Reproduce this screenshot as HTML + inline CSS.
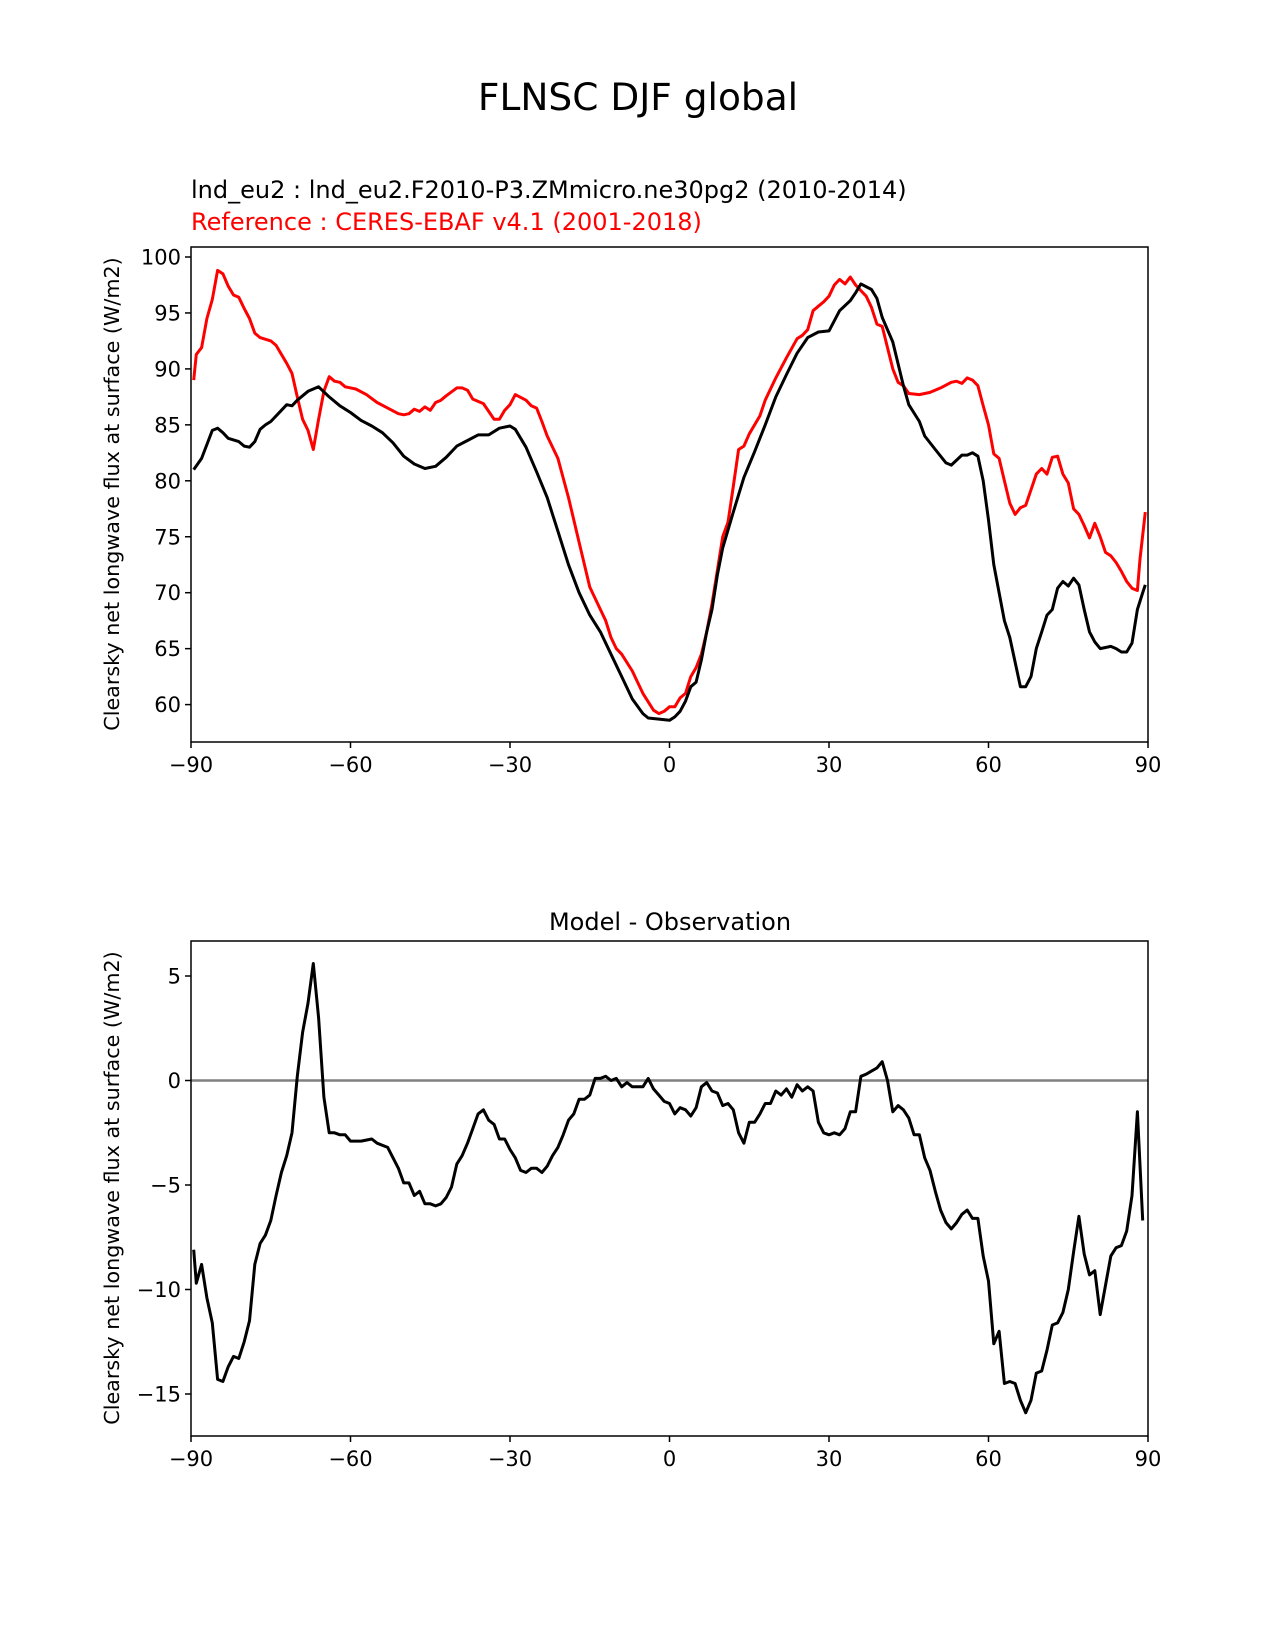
<!DOCTYPE html>
<html><head><meta charset="utf-8"><style>body{margin:0;background:#fff}svg{display:block;font-family:"DejaVu Sans","Liberation Sans",sans-serif}</style></head>
<body>
<svg id="c" width="1275" height="1650">
<text x="638" y="110" font-size="37.5" text-anchor="middle">FLNSC DJF global</text>
<text x="191" y="198" font-size="24">lnd_eu2 : lnd_eu2.F2010-P3.ZMmicro.ne30pg2 (2010-2014)</text>
<text x="191" y="230" font-size="24" fill="#ff0000">Reference : CERES-EBAF v4.1 (2001-2018)</text>
<text x="670" y="930" font-size="24" text-anchor="middle">Model - Observation</text>
<text transform="translate(119,494) rotate(-90)" font-size="20.7" text-anchor="middle">Clearsky net longwave flux at surface (W/m2)</text>
<text transform="translate(119,1188) rotate(-90)" font-size="20.7" text-anchor="middle">Clearsky net longwave flux at surface (W/m2)</text>
</svg>
<script>
const lat=[-89.5,-89,-88,-87,-86,-85,-84,-83,-82,-81,-80,-79,-78,-77,-76,-75,-74,-73,-72,-71,-70,-69,-68,-67,-66,-65,-64,-63,-62,-61,-60,-58,-56,-55,-53,-52,-51,-50,-49,-48,-47,-46,-45,-44,-43,-42,-41,-40,-39,-38,-37,-36,-35,-34,-33,-32,-31,-30,-29,-28,-27,-26,-25,-24,-23,-22,-21,-20,-19,-18,-17,-16,-15,-14,-13,-12,-11,-10,-9,-8,-7,-6,-5,-4,-3,-2,-1,0,1,2,3,4,5,6,7,8,9,10,11,12,13,14,15,16,17,18,19,20,21,22,23,24,25,26,27,28,29,30,31,32,33,34,35,36,37,38,39,40,41,42,43,44,45,46,47,48,49,50,51,52,53,54,55,56,57,58,59,60,61,62,63,64,65,66,67,68,69,70,71,72,73,74,75,76,77,78,79,80,81,82,83,84,85,86,87,88,89];
const diffVals=[-8.1,-9.7,-8.8,-10.4,-11.6,-14.3,-14.4,-13.7,-13.2,-13.3,-12.5,-11.5,-8.8,-7.8,-7.4,-6.7,-5.5,-4.4,-3.6,-2.5,0.2,2.3,3.7,5.6,3,-0.8,-2.5,-2.5,-2.6,-2.6,-2.9,-2.9,-2.8,-3,-3.2,-3.7,-4.2,-4.9,-4.9,-5.5,-5.3,-5.9,-5.9,-6,-5.9,-5.6,-5.1,-4,-3.6,-3,-2.3,-1.6,-1.4,-1.9,-2.1,-2.8,-2.8,-3.3,-3.7,-4.3,-4.4,-4.2,-4.2,-4.4,-4.1,-3.6,-3.2,-2.6,-1.9,-1.6,-0.9,-0.9,-0.7,0.1,0.1,0.2,0,0.1,-0.3,-0.1,-0.3,-0.3,-0.3,0.1,-0.4,-0.7,-1,-1.1,-1.6,-1.3,-1.4,-1.7,-1.3,-0.3,-0.1,-0.5,-0.6,-1.2,-1.1,-1.4,-2.5,-3,-2,-2,-1.6,-1.1,-1.1,-0.5,-0.7,-0.4,-0.8,-0.2,-0.5,-0.3,-0.5,-2,-2.5,-2.6,-2.5,-2.6,-2.3,-1.5,-1.5,0.2,0.3,0.45,0.6,0.9,0,-1.5,-1.2,-1.4,-1.8,-2.6,-2.6,-3.7,-4.3,-5.3,-6.2,-6.8,-7.1,-6.8,-6.4,-6.2,-6.6,-6.6,-8.4,-9.6,-12.6,-12,-14.5,-14.4,-14.5,-15.3,-15.9,-15.3,-14,-13.9,-12.9,-11.7,-11.6,-11.1,-10,-8.2,-6.5,-8.3,-9.3,-9.1,-11.2,-9.8,-8.4,-8,-7.9,-7.2,-5.5,-1.5,-6.7];
const mLat=[-89.5,-88,-86,-85,-84,-83,-81,-80,-79,-78,-77,-76,-75,-73,-72,-71,-70,-68,-66,-64,-62,-60,-58,-56,-54,-52,-50,-48,-46,-44,-42,-40,-38,-36,-34,-32,-30,-29,-27,-25,-23,-21,-19,-17,-15,-13,-11,-9,-7,-5,-4,-2,0,1,2,3,4,5,6,7,8,9,10,12,14,16,18,20,22,24,26,28,30,32,34,35,36,38,39,40,42,44,45,47,48,50,52,53,55,56,57,58,59,60,61,62,63,64,65,66,67,68,69,70,71,72,73,74,75,76,77,78,79,80,81,82,83,84,85,86,87,88,89,89.5];
const modelVals=[81,82,84.5,84.7,84.3,83.8,83.5,83.1,83,83.5,84.6,85,85.3,86.3,86.8,86.7,87.2,88,88.4,87.5,86.7,86.1,85.4,84.9,84.3,83.4,82.2,81.5,81.1,81.3,82.1,83.1,83.6,84.1,84.1,84.7,84.9,84.6,83,80.8,78.5,75.5,72.5,70,68,66.5,64.5,62.5,60.5,59.2,58.8,58.7,58.6,58.9,59.4,60.3,61.6,62,64,66.5,68.5,71.6,74,77.2,80.3,82.6,85,87.5,89.5,91.4,92.8,93.3,93.4,95.2,96.1,96.8,97.6,97.1,96.3,94.6,92.4,88.5,86.8,85.3,84,82.8,81.6,81.4,82.3,82.3,82.5,82.2,80,76.5,72.5,70,67.5,66,63.8,61.6,61.6,62.5,65,66.5,68,68.5,70.4,71,70.6,71.3,70.7,68.5,66.5,65.6,65,65.1,65.2,65,64.7,64.7,65.5,68.5,70,70.7];
const rLat=[-89.5,-89,-88,-87,-86,-85,-84,-83,-82,-81,-80,-79,-78,-77,-75,-74,-72,-71,-70,-69,-68,-67,-66,-65,-64,-63,-62,-61,-59,-57,-55,-53,-51,-50,-49,-48,-47,-46,-45,-44,-43,-42,-40,-39,-38,-37,-35,-34,-33,-32,-31,-30,-29,-27,-26,-25,-24,-23,-21,-19,-17,-15,-13,-12,-11,-10,-9,-7,-5,-3,-2,-1,0,1,2,3,4,5,6,7,8,9,10,11,12,13,14,15,17,18,20,22,24,25,26,27,28,29,30,31,32,33,34,35,36,37,38,39,40,42,43,44,45,47,49,51,53,54,55,56,57,58,59,60,61,62,63,64,65,66,67,68,69,70,71,72,73,74,75,76,77,78,79,80,81,82,83,84,85,86,87,88,88.5,89.5];
const refVals=[89,91.3,91.9,94.5,96.2,98.8,98.5,97.4,96.6,96.4,95.4,94.5,93.2,92.8,92.5,92.1,90.5,89.6,87.5,85.5,84.5,82.8,85.5,88,89.3,88.9,88.8,88.4,88.2,87.7,87,86.5,86,85.9,86,86.4,86.2,86.6,86.3,87,87.2,87.6,88.3,88.3,88.1,87.3,86.9,86.2,85.5,85.5,86.3,86.8,87.7,87.2,86.7,86.5,85.3,84,82,78.5,74.5,70.5,68.5,67.5,66,65,64.5,63,61,59.5,59.2,59.4,59.8,59.8,60.6,61,62.5,63.3,64.5,66.5,69,72,75,76.3,79.5,82.8,83.1,84.2,85.8,87.2,89.2,91,92.7,93,93.5,95.2,95.6,96,96.5,97.5,98,97.6,98.2,97.5,97,96.5,95.5,94,93.8,90,88.8,88.5,87.8,87.7,87.9,88.3,88.8,88.9,88.7,89.2,89,88.5,86.7,85,82.4,82,80,78,77,77.6,77.8,79.2,80.6,81.1,80.6,82.1,82.2,80.6,79.8,77.5,77,76,74.9,76.2,75,73.6,73.3,72.7,71.9,71,70.4,70.2,73,77.2];
const xTicks=[-90,-60,-30,0,30,60,90];
const topTicks=[60,65,70,75,80,85,90,95,100];
const botTicks=[-15,-10,-5,0,5];

const NS='http://www.w3.org/2000/svg',svg=document.getElementById('c');
function mk(t,a,txt){const e=document.createElementNS(NS,t);for(const k in a)e.setAttribute(k,a[k]);if(txt!==undefined)e.textContent=txt;svg.appendChild(e);return e;}
const X0=191,X1=1148;
const xs=v=>X0+(v+90)/180*(X1-X0);
const yTop=v=>257+(100-v)*11.19;
const yBot=v=>1080.5-v*20.9;
function axes(top,bot,ys,ticks,prefix){
  for(const t of xTicks){const x=xs(t);
    const tk=mk('line',{x1:x,x2:x,y1:bot,y2:bot+6,stroke:'#000','stroke-width':1.5});
    
    
    const tl=mk('text',{x:x,y:bot+30,'font-size':21,'text-anchor':'middle'},String(t).replace('-','\u2212'));
    
    }
  for(const t of ticks){const y=ys(t);
    const tk=mk('line',{x1:X0-6,x2:X0,y1:y,y2:y,stroke:'#000','stroke-width':1.5});
    
    
    const tl=mk('text',{x:X0-10,y:y+7.5,'font-size':21,'text-anchor':'end'},String(t).replace('-','\u2212'));
    
    }
}
function line(xa,ya,ys,color,name){
  const d=xa.map((v,i)=>(i?'L':'M')+xs(v).toFixed(1)+','+ys(ya[i]).toFixed(1)).join('');
  const p=mk('path',{d:d,fill:'none',stroke:color,'stroke-width':3,'stroke-linejoin':'round'});
  
  
}
axes(247,742,yTop,topTicks,'top');
axes(941,1436,yBot,botTicks,'bottom');
line(rLat,refVals,yTop,'#ff0000','reference-line');
line(mLat,modelVals,yTop,'#000000','model-line');
const z=mk('line',{x1:X0,x2:X1,y1:yBot(0),y2:yBot(0),stroke:'#808080','stroke-width':2.5});


line(lat,diffVals,yBot,'#000000','difference-line');
const f1=mk('rect',{x:X0,y:247,width:X1-X0,height:495,fill:'none',stroke:'#000','stroke-width':1.5});


const f2=mk('rect',{x:X0,y:941,width:X1-X0,height:495,fill:'none',stroke:'#000','stroke-width':1.5});


</script>
</body></html>
